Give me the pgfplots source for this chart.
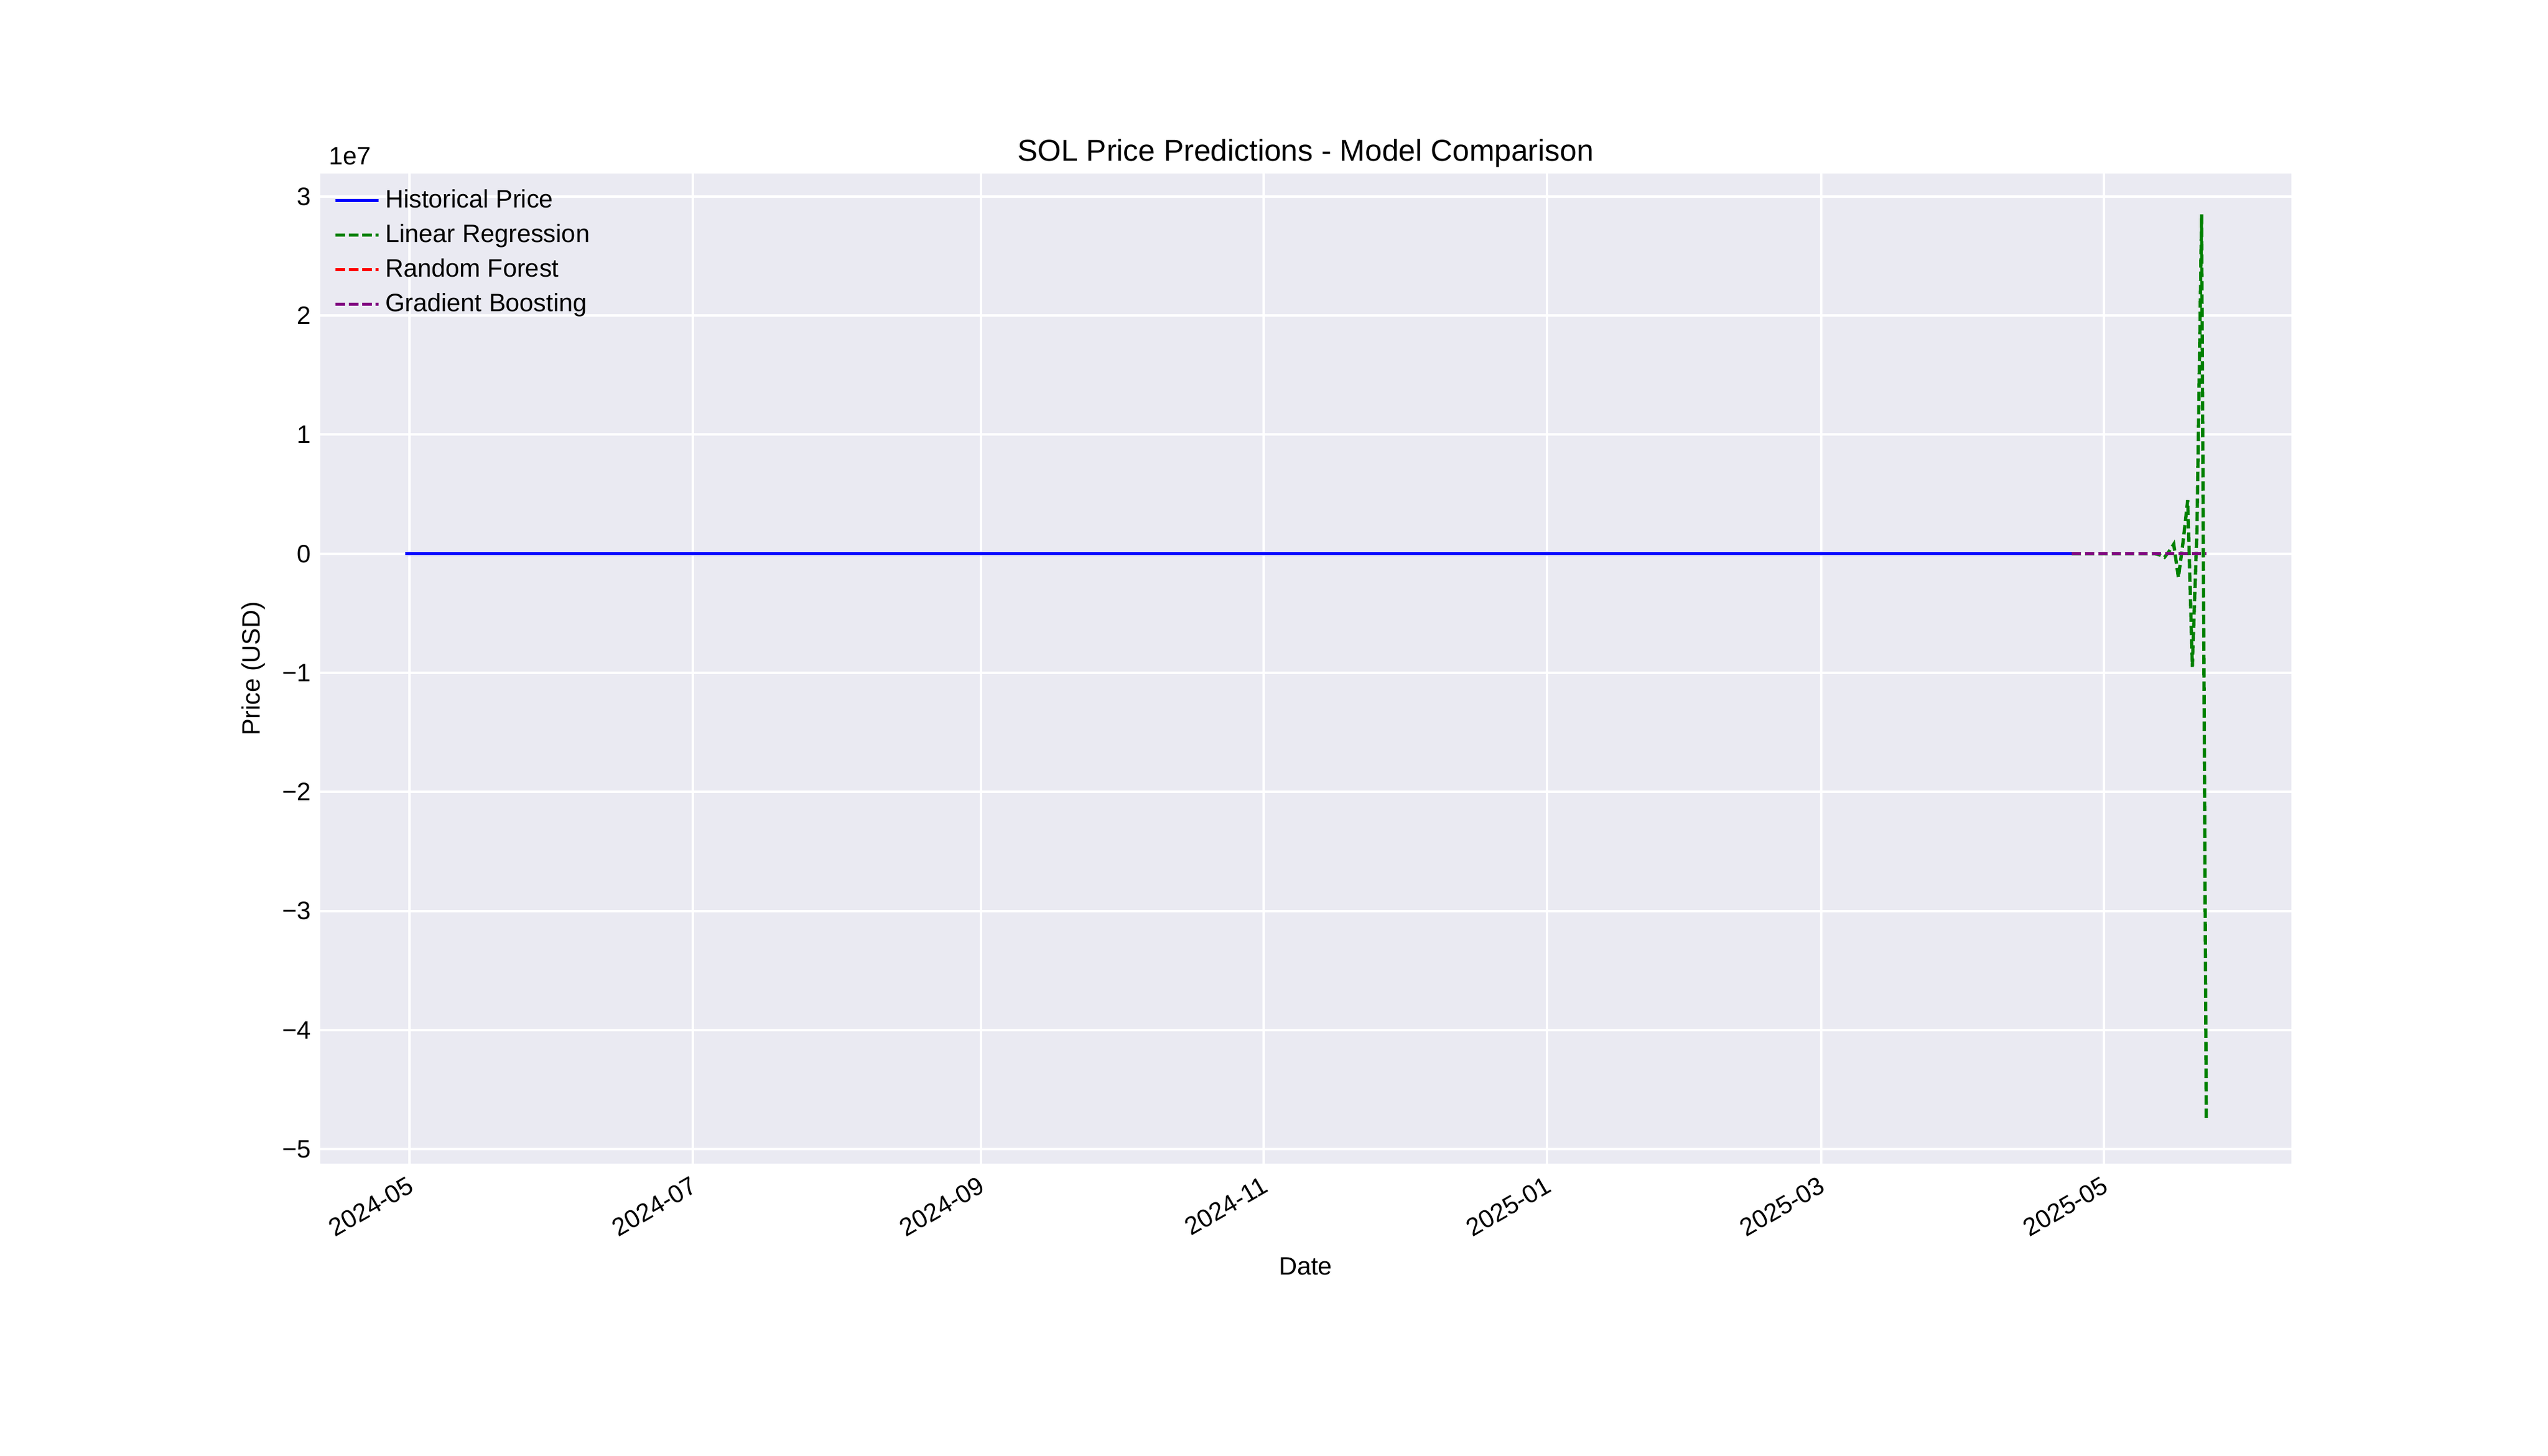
\documentclass[border=0pt]{standalone}
\usepackage{fontspec}
\setmainfont{Liberation Sans}
\usepackage{pgfplots}
\pgfplotsset{compat=1.18}
\definecolor{bg}{HTML}{EAEAF2}
\definecolor{mgreen}{HTML}{008000}
\definecolor{mpurple}{HTML}{800080}
\begin{document}
\begin{tikzpicture}
\useasboundingbox (0,0) rectangle (14in,8in);
\begin{axis}[at={(1.759in,1.607in)}, anchor=south west, scale only axis,
 width=10.83in, height=5.438in,
 xmin=-19.3, xmax=405.3, ymin=-5.12, ymax=3.19,
 axis background/.style={fill=bg}, axis line style={draw=none},
 grid=major, major grid style={white, line width=1pt},
 tick style={draw=none},
 xtick={0,61,123,184,245,304,365},
 xticklabels={2024-05,2024-07,2024-09,2024-11,2025-01,2025-03,2025-05},
 xticklabel style={rotate=30, anchor=north east, font=\fontsize{10}{12}\selectfont},
 ytick={-5,-4,-3,-2,-1,0,1,2,3},
 yticklabels={−5,−4,−3,−2,−1,0,1,2,3},
 yticklabel style={font=\fontsize{10}{12}\selectfont},
 xlabel={Date}, ylabel={Price (USD)},
 label style={font=\fontsize{10}{12}\selectfont},
 title={SOL Price Predictions - Model Comparison},
 title style={font=\fontsize{12}{14}\selectfont, yshift=-7pt},
 legend style={at={(0.003,0.995)}, anchor=north west, draw=none, fill=none, font=\fontsize{10}{12}\selectfont, row sep=1pt},
 legend cell align=left,
 mydash/.style={dash pattern=on 3.7pt off 1.6pt},
 clip=false]
\addplot[blue, line width=1.3pt] coordinates {(-1,0) (358,0)};
\addlegendentry{Historical Price}
\addplot[mgreen, line width=1.3pt, mydash] coordinates {(358,0) (376,0) (377,-0.01) (378,-0.03) (379,0.02) (380,0.08) (381,-0.2) (382,0.1) (383,0.45) (384,-0.95) (385,0.2) (386,2.85) (387,-4.75)};
\addlegendentry{Linear Regression}
\addplot[red, line width=1.3pt, mydash] coordinates {(358,0) (387,0)};
\addlegendentry{Random Forest}
\addplot[mpurple, line width=1.3pt, mydash] coordinates {(358,0) (387,0)};
\addlegendentry{Gradient Boosting}
\node[anchor=south west, font=\fontsize{10}{12}\selectfont] at (rel axis cs:0,1) {1e7};
\end{axis}
\end{tikzpicture}
\end{document}
